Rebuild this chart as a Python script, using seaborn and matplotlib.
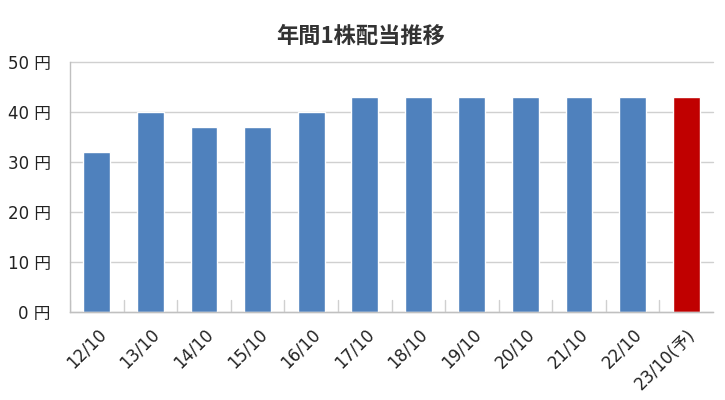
import matplotlib
matplotlib.use('Agg')
import matplotlib.pyplot as plt
import seaborn as sns
import pandas as pd

years = ['12/10', '13/10', '14/10', '15/10', '16/10', '17/10',
         '18/10', '19/10', '20/10', '21/10', '22/10', '23/10(予)']
dividends = [32, 40, 37, 37, 40, 43, 43, 43, 43, 43, 43, 43]
bar_colors = ['#4F81BD'] * 11 + ['#C00000']
y_ticks = [0, 10, 20, 30, 40, 50]

sns.set_theme(style='white')
plt.rcParams['font.family'] = ['DejaVu Sans', 'Noto Sans CJK JP']

df = pd.DataFrame({'year': years, 'dividend': dividends})

fig = plt.figure(figsize=(7.25, 4), dpi=100)
ax = fig.add_axes([70 / 725, 1 - 311.5 / 400, 643 / 725, 249 / 400])

sns.barplot(data=df, x='year', y='dividend', hue='year', palette=bar_colors,
            width=0.5, legend=False, ax=ax, saturation=1)

ax.set_ylim(0, 50)
ax.set_xlim(-0.5, len(years) - 0.5)
ax.set_yticks(y_ticks)
ax.set_yticklabels([f'{v} 円' for v in y_ticks], fontsize=12, color='#222222')
ax.yaxis.grid(True, color='#d0d0d0', linewidth=1)
for gl in ax.get_ygridlines():
    gl.set_clip_on(False)
ax.set_axisbelow(True)
ax.set_xlabel('')
ax.set_ylabel('')

ax.set_xticks(range(len(years)))
ax.set_xticklabels(years, rotation=45, ha='right', rotation_mode='anchor',
                   fontsize=12, color='#222222')
ax.tick_params(axis='x', length=0, pad=10)
ax.tick_params(axis='y', length=6, width=1, color='#d0d0d0', direction='out', pad=8)

# category separator ticks on x axis
for i in range(len(years)):
    ax.plot([i - 0.5, i - 0.5], [0, 2.4], color='#d0d0d0', linewidth=1, zorder=0)

for side in ['top', 'right']:
    ax.spines[side].set_visible(False)
for side in ['left', 'bottom']:
    ax.spines[side].set_color('#c0c0c0')
    ax.spines[side].set_linewidth(1)

fig.text(0.497, 1 - 36.5 / 400, '年間1株配当推移', fontsize=16, fontweight='bold',
         ha='center', va='center', color='#333333', family=['Noto Sans CJK JP'])

fig.savefig('out.png', dpi=100)
